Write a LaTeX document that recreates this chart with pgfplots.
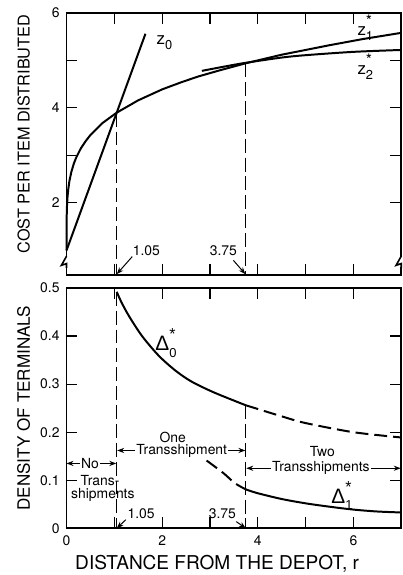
\documentclass[border=0pt]{standalone}
\usepackage{fontspec}
\setmainfont{TeX Gyre Heros}
\newfontfamily\grk{Liberation Sans}
\usepackage{pgfplots}
\pgfplotsset{compat=1.18}
\usetikzlibrary{arrows.meta,calc}

% letter with a star above and an index below
\newcommand{\starsub}[2]{#1\makebox[0pt][l]{\raisebox{1.0ex}{\fontsize{8}{8}\selectfont *}}\raisebox{-0.6ex}{\fontsize{6.5}{7}\selectfont #2}}

\pgfplotsset{
  panel/.style={
    scale only axis, width=168.5pt, xmin=0, xmax=7,
    axis line style={line width=0.9pt},
    every tick/.style={black, line width=0.6pt},
    major tick length=5.5pt,
    xtick={0,1,...,7},
    tick label style={font=\fontsize{7}{8}\selectfont},
    clip=false,
  },
  crv/.style={black, line width=1pt, mark=none},
  dsh/.style={black, line width=1pt, mark=none, dash pattern=on 6.5pt off 3pt},
  vln/.style={black, line width=0.6pt, mark=none, dash pattern=on 7pt off 2.5pt},
}
\tikzset{
  txt/.style={font=\fontsize{7}{8}\selectfont, inner sep=0.5pt},
  arr/.style={line width=0.5pt, -{Stealth[length=3.5pt,width=2.6pt]}},
}

\begin{document}
\begin{tikzpicture}

% ---- top: cost per item
\begin{axis}[panel, name=top, height=132pt, ymin=0.48, ymax=6,
  ytick={2,3,4,5,6}, yticklabels={2,,4,,6}, xticklabels={},
  ylabel={COST PER ITEM DISTRIBUTED},
  ylabel style={at={(axis description cs:-0.128,0.538)}, anchor=center,
    font=\fontsize{8.2}{9}\selectfont}]
% z1*
\addplot[crv] coordinates {
  (0,1.0) (0,1.55) (0.003,1.71) (0.01,1.95) (0.02,2.12) (0.035,2.28)
  (0.06,2.46) (0.1,2.65) (0.15,2.82) (0.2,2.95) (0.3,3.15) (0.4,3.30)
  (0.5,3.43) (0.75,3.68) (1.05,3.90) (1.5,4.16) (2,4.39) (2.4,4.54)
  (2.75,4.66) (3.2,4.79) (3.75,4.94) (4.5,5.12) (5.5,5.32) (6.2,5.45) (7,5.58)};
% z0
\addplot[crv] coordinates {(0,1.0) (1.65,5.56)};
% z2*
\addplot[crv, smooth] coordinates {
  (2.83,4.78) (3.3,4.87) (3.75,4.95) (4.5,5.06) (5,5.11) (6,5.18) (7,5.22)};
\addplot[vln] coordinates {(1.05,3.9) (1.05,0.48)};
\addplot[vln] coordinates {(3.75,4.94) (3.75,0.48)};

\node[font=\fontsize{8.5}{9}\selectfont] at (axis cs:2.05,5.38)
  {z\raisebox{-0.55ex}{\fontsize{6.5}{7}\selectfont 0}};
\node[font=\fontsize{8.5}{9}\selectfont] at (axis cs:6.25,5.69) {\starsub{z}{1}};
\node[font=\fontsize{8.5}{9}\selectfont] at (axis cs:6.25,4.86) {\starsub{z}{2}};

\node[txt] at (axis cs:1.67,0.99) {1.05};
\draw[arr] (axis cs:1.375,0.87) -- (axis cs:1.05,0.50);
\node[txt] at (axis cs:3.28,0.99) {3.75};
\draw[arr] (axis cs:3.49,0.79) -- (axis cs:3.74,0.50);
\end{axis}

% ---- bottom: density of terminals
\begin{axis}[panel, name=bot, at={($(top.south west)+(0,-6.5pt)$)}, anchor=north west,
  height=121pt, ymin=0, ymax=0.5,
  ytick={0,0.1,0.2,0.3,0.4,0.5}, yticklabels={0,0.1,0.2,0.3,0.4,0.5},
  xticklabels={0,,2,,4,,6,},
  ylabel={DENSITY OF TERMINALS},
  ylabel style={at={(axis description cs:-0.128,0.5)}, anchor=center,
    font=\fontsize{8.6}{9}\selectfont},
  xlabel={DISTANCE FROM THE DEPOT, r},
  xlabel style={at={(axis description cs:0.45,-0.148)}, anchor=center,
    font=\fontsize{9.6}{10}\selectfont}]
% Delta0*
\addplot[crv, smooth] coordinates {
  (1.05,0.492) (1.15,0.470) (1.31,0.441) (1.58,0.400) (1.93,0.359)
  (2.28,0.328) (2.62,0.305) (3.1,0.282) (3.75,0.256)};
\addplot[dsh, smooth] coordinates {
  (3.75,0.256) (4.5,0.233) (5,0.219) (6,0.200) (7,0.189)};
% Delta1*
\addplot[dsh, smooth] coordinates {
  (2.93,0.141) (3.28,0.115) (3.52,0.094) (3.75,0.081)};
\addplot[crv, smooth] coordinates {
  (3.75,0.081) (4,0.073) (4.5,0.061) (5,0.052) (5.5,0.045) (6,0.039)
  (6.5,0.035) (7,0.033)};
\addplot[vln] coordinates {(1.05,0.492) (1.05,0)};
\addplot[vln] coordinates {(3.75,0.256) (3.75,0)};

\node[font=\fontsize{10.5}{11}\selectfont] at (axis cs:2.08,0.385) {\starsub{\grk Δ}{0}};
\node[font=\fontsize{10.5}{11}\selectfont] at (axis cs:5.76,0.068) {\starsub{\grk Δ}{1}};

\node[txt] (no) at (axis cs:0.49,0.135) {No};
\draw[arr] (no.west) -- (axis cs:0,0.135);
\draw[arr] (no.east) -- (axis cs:1.04,0.135);
\node[txt] at (axis cs:0.70,0.100) {Trans-};
\node[txt] at (axis cs:0.76,0.070) {shipments};

\node[txt] at (axis cs:2.22,0.190) {One};
\node[txt] (t1) at (axis cs:2.41,0.162) {Transshipment};
\draw[arr] (t1.west) -- (axis cs:1.06,0.162);
\draw[arr] (t1.east) -- (axis cs:3.74,0.162);

\node[txt] at (axis cs:5.35,0.159) {Two};
\node[txt] (t2) at (axis cs:5.32,0.125) {Transshipments};
\draw[arr] (t2.west) -- (axis cs:3.76,0.125);
\draw[arr] (t2.east) -- (axis cs:6.99,0.125);

\node[txt] at (axis cs:1.56,0.030) {1.05};
\draw[arr] (axis cs:1.24,0.018) -- (axis cs:1.05,0.0);
\node[txt] at (axis cs:3.26,0.030) {3.75};
\draw[arr] (axis cs:3.55,0.014) -- (axis cs:3.75,0.0);
\end{axis}

% axis breaks near the foot of the top panel
\foreach \c in {top.south west, top.south east} {
  \fill[white] ($(\c)+(-1pt,4pt)$) rectangle ($(\c)+(1pt,9pt)$);
  \draw[line width=0.8pt] ($(\c)+(0,9.5pt)$) -- ++(-2.6pt,-4.6pt) -- ++(2.6pt,0.9pt) -- ++(0,-2.2pt);
}

\pgfresetboundingbox
\path ($(top.north west)+(-33.5pt,6.5pt)$) rectangle ($(bot.south east)+(0.5pt,-23.5pt)$);
\end{tikzpicture}
\end{document}
